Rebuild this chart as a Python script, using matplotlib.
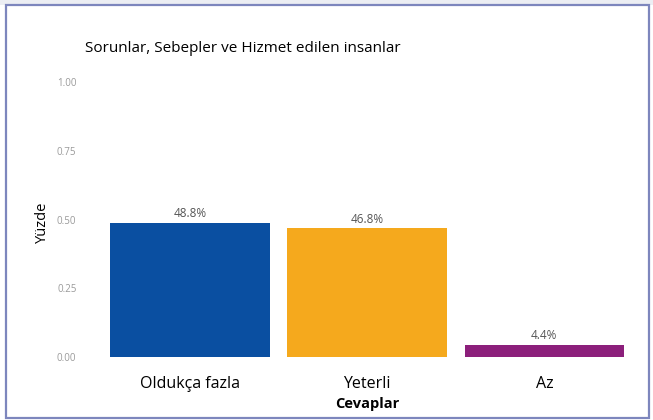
import matplotlib.pyplot as plt
from matplotlib.patches import Rectangle

# Verileri
kategoriler = ['Oldukça fazla', 'Yeterli', 'Az']
oranlar = [0.488, 0.468, 0.044]
etiketler = ['48.8%', '46.8%', '4.4%']
renkler = ['#0a4fa1', '#f5a91d', '#8c1f7b']
yticks = [0.0, 0.25, 0.50, 0.75, 1.00]

plt.rcParams['font.family'] = ['Open Sans', 'DejaVu Sans']

W, H = 653, 420
fig = plt.figure(figsize=(W / 100, H / 100), dpi=100)
fig.patch.set_facecolor('white')

# cerceve
fig.patches.append(Rectangle((0, 1 - 5 / H), 1, 5 / H, transform=fig.transFigure,
                             facecolor='#eceef3', edgecolor='none', zorder=0))
fig.patches.append(Rectangle((6 / W, 2 / H), 643 / W, 413 / H, transform=fig.transFigure,
                             facecolor='none', edgecolor='#7d86bd', linewidth=1.6, zorder=5))

ax = fig.add_axes([82 / W, 1 - 370 / H, (640 - 82) / W, (370 - 68) / H])
x = range(len(kategoriler))
ax.bar(x, oranlar, width=0.9, color=renkler)
for i, (v, t) in enumerate(zip(oranlar, etiketler)):
    ax.text(i, v + 0.01, t, ha='center', va='bottom', fontsize=8.5, color='#555555')

ax.set_xlim(-0.61, 2.54)
ax.set_ylim(-0.047, 1.051)
ax.set_yticks(yticks)
ax.set_yticklabels(['0.00', '0.25', '0.50', '0.75', '1.00'], fontsize=7, color='#9a9a9a')
ax.set_xticks(list(x))
ax.set_xticklabels(kategoriler, fontsize=11.5, color='black')
ax.tick_params(axis='both', length=0)
ax.tick_params(axis='x', pad=4)
ax.tick_params(axis='y', pad=4)
for s in ax.spines.values():
    s.set_visible(False)

fig.text(85 / W, 1 - 48 / H, 'Sorunlar, Sebepler ve Hizmet edilen insanlar',
         fontsize=11, va='center', ha='left')
fig.text(42 / W, 1 - 222 / H, 'Yüzde', rotation=90, fontsize=10.5, va='center', ha='center')
fig.text(367 / W, 1 - 404 / H, 'Cevaplar', fontsize=10.5, fontweight='bold',
         va='center', ha='center')

fig.savefig('out.png', dpi=100)
